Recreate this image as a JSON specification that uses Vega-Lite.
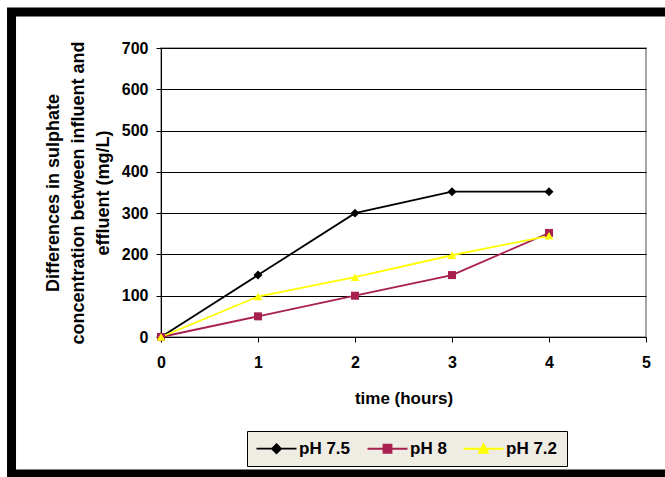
{
  "$schema": "https://vega.github.io/schema/vega-lite/v6.json",
  "width": 485,
  "height": 289,
  "autosize": {"type": "none"},
  "padding": {"left": 161, "top": 48, "right": 19, "bottom": 140},
  "background": "white",
  "config": {
    "font": "Liberation Sans",
    "view": {"stroke": "#8a8a8a", "strokeWidth": 1.5},
    "axis": {
      "domainColor": "black",
      "tickColor": "black",
      "gridColor": "black",
      "gridOpacity": 1,
      "labelColor": "black",
      "titleColor": "black",
      "labelFont": "Liberation Sans",
      "titleFont": "Liberation Sans",
      "labelFontWeight": "bold",
      "titleFontWeight": "bold",
      "labelFontSize": 16,
      "titleFontSize": 17,
      "tickSize": 5,
      "labelFlush": false
    }
  },
  "datasets": {
    "sulphate": [
      {"series": "pH 7.5", "time": 0, "value": 0},
      {"series": "pH 7.5", "time": 1, "value": 150},
      {"series": "pH 7.5", "time": 2, "value": 300},
      {"series": "pH 7.5", "time": 3, "value": 352},
      {"series": "pH 7.5", "time": 4, "value": 352},
      {"series": "pH 8", "time": 0, "value": 0},
      {"series": "pH 8", "time": 1, "value": 50},
      {"series": "pH 8", "time": 2, "value": 100},
      {"series": "pH 8", "time": 3, "value": 150},
      {"series": "pH 8", "time": 4, "value": 252},
      {"series": "pH 7.2", "time": 0, "value": 0},
      {"series": "pH 7.2", "time": 1, "value": 98},
      {"series": "pH 7.2", "time": 2, "value": 145},
      {"series": "pH 7.2", "time": 3, "value": 198},
      {"series": "pH 7.2", "time": 4, "value": 245}
    ]
  },
  "layer": [
    {
      "data": {"name": "sulphate"},
      "mark": {"type": "line", "strokeWidth": 1.8},
      "encoding": {
        "x": {
          "field": "time", "type": "quantitative",
          "scale": {"domain": [0, 5], "nice": false, "zero": false},
          "axis": {"title": "time (hours)", "values": [0, 1, 2, 3, 4, 5], "format": "d", "grid": false, "labelPadding": 12, "titlePadding": 20}
        },
        "y": {
          "field": "value", "type": "quantitative",
          "scale": {"domain": [0, 700], "nice": false},
          "axis": {
            "title": ["Differences in sulphate", "concentration between influent and", "effluent (mg/L)"],
            "titleFontSize": 18,
            "titleLineHeight": 25,
            "values": [0, 100, 200, 300, 400, 500, 600, 700],
            "format": "d",
            "grid": true,
            "labelPadding": 8,
            "titlePadding": 9
          }
        },
        "color": {
          "field": "series", "type": "nominal",
          "scale": {"domain": ["pH 7.5", "pH 8", "pH 7.2"], "range": ["#000000", "#a8204f", "#ffff00"]},
          "legend": {
            "orient": "none",
            "legendX": 86,
            "legendY": 383,
            "direction": "horizontal",
            "columns": 3,
            "title": null,
            "strokeColor": "black",
            "fillColor": "#efece4",
            "padding": 9,
            "symbolSize": 100,
            "symbolOffset": 12,
            "labelOffset": 14,
            "columnPadding": 12,
            "labelFont": "Liberation Sans",
            "labelFontSize": 17,
            "labelFontWeight": "bold",
            "labelColor": "black",
            "encode": {
              "symbols": {
                "update": {
                  "shape": {"signal": "datum.value === 'pH 7.5' ? 'M-4,0H4M0,-0.9L0.9,0L0,0.9L-0.9,0Z' : datum.value === 'pH 8' ? 'M-4,0H4M-0.8,-0.8H0.8V0.8H-0.8Z' : 'M-4,0H4M0,-0.9L0.9,0.8L-0.9,0.8Z'"},
                  "fill": {"signal": "datum.value === 'pH 7.5' ? '#000000' : datum.value === 'pH 8' ? '#a8204f' : '#ffff00'"},
                  "stroke": {"signal": "datum.value === 'pH 7.5' ? '#000000' : datum.value === 'pH 8' ? '#a8204f' : '#ffff00'"},
                  "strokeWidth": {"value": 1.8},
                  "opacity": {"value": 1}
                }
              }
            }
          }
        }
      }
    },
    {
      "data": {"name": "sulphate"},
      "transform": [{"filter": "datum.series === 'pH 7.5'"}],
      "mark": {"type": "point", "shape": "diamond", "filled": true, "opacity": 1, "size": 80, "color": "#000000"},
      "encoding": {
        "x": {"field": "time", "type": "quantitative"},
        "y": {"field": "value", "type": "quantitative"}
      }
    },
    {
      "data": {"name": "sulphate"},
      "transform": [{"filter": "datum.series === 'pH 8'"}],
      "mark": {"type": "point", "shape": "square", "filled": true, "opacity": 1, "size": 64, "color": "#a8204f"},
      "encoding": {
        "x": {"field": "time", "type": "quantitative"},
        "y": {"field": "value", "type": "quantitative"}
      }
    },
    {
      "data": {"name": "sulphate"},
      "transform": [{"filter": "datum.series === 'pH 7.2'"}],
      "mark": {"type": "point", "shape": "triangle-up", "filled": true, "opacity": 1, "size": 75, "color": "#ffff00"},
      "encoding": {
        "x": {"field": "time", "type": "quantitative"},
        "y": {"field": "value", "type": "quantitative"}
      }
    },
    {
      "data": {"values": [{}]},
      "mark": {"type": "rect", "fill": null, "stroke": "black", "strokeWidth": 9, "clip": false},
      "encoding": {
        "x": {"datum": -1.541, "type": "quantitative"},
        "x2": {"datum": 5.3},
        "y": {"datum": 787, "type": "quantitative"},
        "y2": {"datum": -332}
      }
    }
  ]
}
